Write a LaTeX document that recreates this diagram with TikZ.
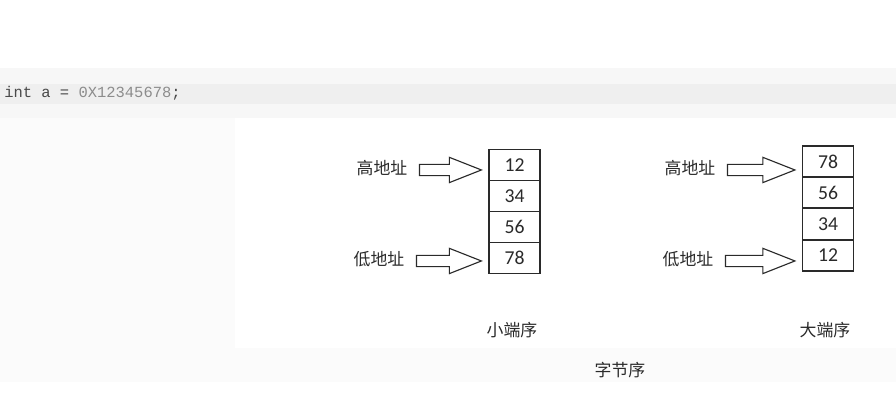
\documentclass[tikz,border=0pt]{standalone}
\usepackage{fontspec}
\setmainfont{Carlito}
\newfontfamily\cjk{Noto Sans CJK SC}
\newfontfamily\codefont{Liberation Mono}
\usepackage{tikz}
\usetikzlibrary{calc}
\definecolor{bandgray}{HTML}{F7F7F7}
\definecolor{codegray}{HTML}{EFEFEF}
\definecolor{ink}{HTML}{2A2A2A}
\definecolor{numgray}{HTML}{8C8C8C}
\definecolor{kwgray}{HTML}{4A4A4A}

\begin{document}
\begin{tikzpicture}[x=0.025cm, y=-0.025cm,
    cell/.style={draw=ink, line width=0.8pt, minimum width=36.3pt,
      minimum height=22pt, inner sep=0pt, text=ink,
      font=\fontsize{14}{16}\selectfont},
    addr/.style={text=ink, inner sep=0pt, font=\cjk\fontsize{12}{14}\selectfont},
    hollow arrow/.style={draw=ink, line width=0.8pt, fill=white,
      to path={let \p1=(\tikztostart), \p2=(\tikztotarget) in
        (\x1+8.5pt,\y1-1.4pt+4pt) -- (\x2-27.8pt,\y1-1.4pt+4pt)
        -- (\x2-27.8pt,\y1-1.4pt+9pt) -- (\x2-5pt,\y1-1.4pt)
        -- (\x2-27.8pt,\y1-1.4pt-9pt) -- (\x2-27.8pt,\y1-1.4pt-4pt)
        -- (\x1+8.5pt,\y1-1.4pt-4pt) -- cycle}}]
      \useasboundingbox (0,0) rectangle (896,419);
      % Background bands
      \fill[white] (0,0) rectangle (896,419);
      \fill[bandgray] (0,68) rectangle (896,118);
      \fill[codegray] (0,84) rectangle (896,104);
      \fill[bandgray!45!white] (0,118) rectangle (235,382);
      \fill[bandgray!45!white] (235,348) rectangle (896,382);
      % Code line
      \node[anchor=west, inner sep=0pt, font=\codefont\fontsize{11}{13}\selectfont]
      (code) at (4,93) {\textcolor{kwgray}{int a = }\textcolor{numgray}{0X12345678}\textcolor{kwgray}{;}};
      % Little endian
      \node[cell] (l1) at (514.5,165) {12};
      \node[cell] (l2) at (514.5,196) {34};
      \node[cell] (l3) at (514.5,227) {56};
      \node[cell] (l4) at (514.5,258) {78};
      \node[addr] (lhi) at (382,168) {高地址};
      \node[addr] (llo) at (379,259) {低地址};
      \draw[hollow arrow] (lhi.east) to (l1.west);
      \draw[hollow arrow] (llo.east) to (l4.west);
      % Big endian
      \node[cell] (b1) at (828,161.5) {78};
      \node[cell] (b2) at (828,192.5) {56};
      \node[cell] (b3) at (828,224) {34};
      \node[cell] (b4) at (828,255.5) {12};
      \node[addr] (bhi) at (690,168) {高地址};
      \node[addr] (blo) at (688,259) {低地址};
      \draw[hollow arrow] (bhi.east) to (b1.west);
      \draw[hollow arrow] (blo.east) to (b4.west);
      % Captions
      \node[addr] (little) at (512,330) {小端序};
      \node[addr] (big) at (825,330) {大端序};
      \node[addr] (order) at (620,370) {字节序};
    \end{tikzpicture}
\end{document}
